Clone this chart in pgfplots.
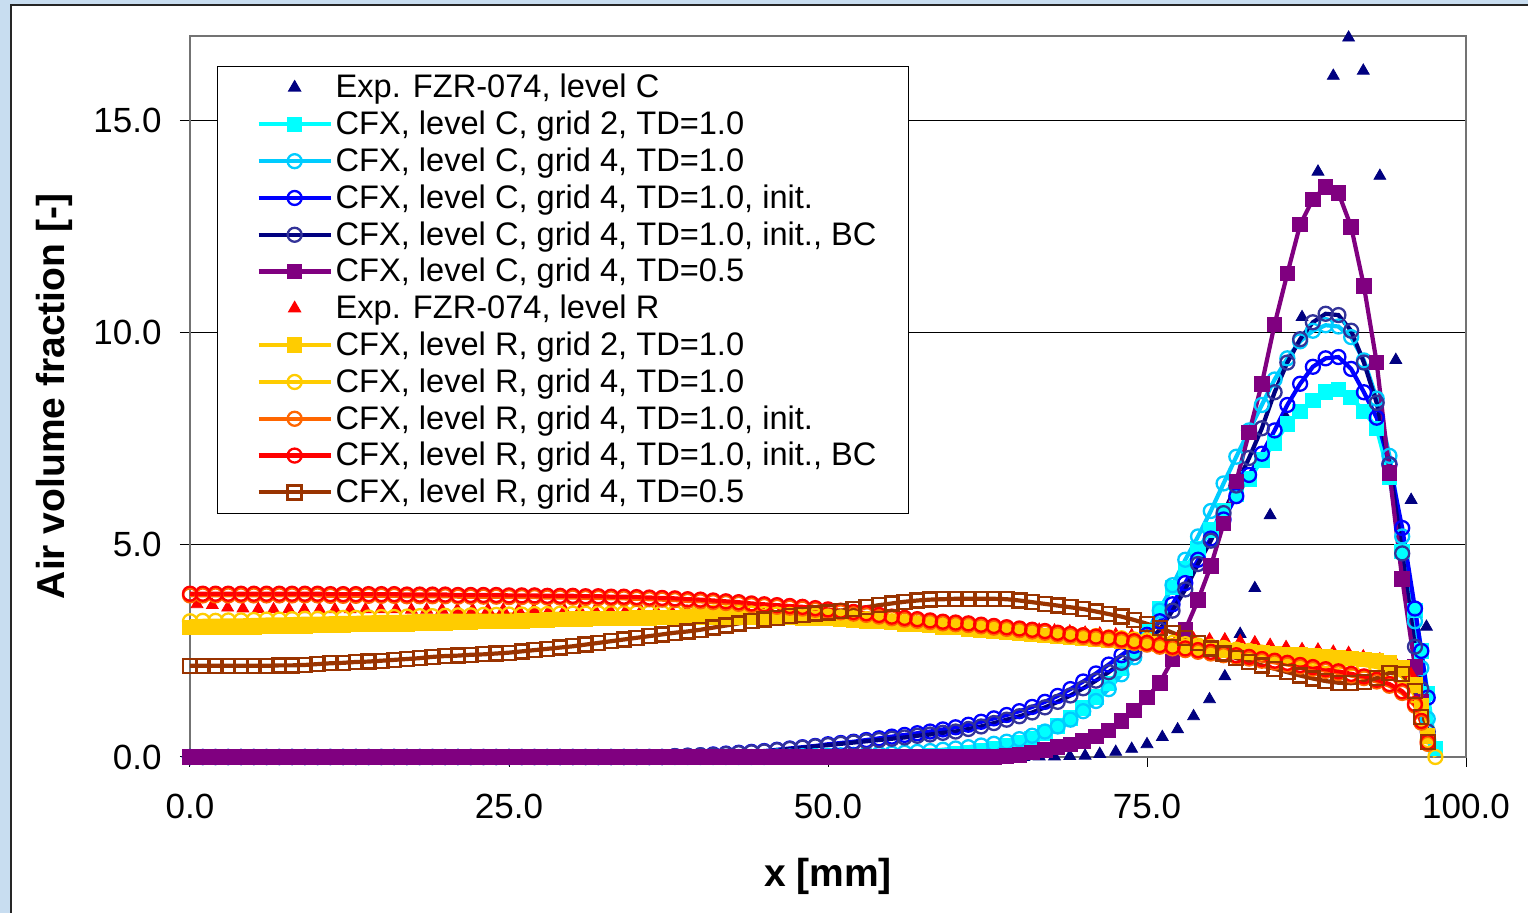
\documentclass[border=0pt]{standalone}
\usepackage{pgfplots}
\usepackage{pgfplotstable}
\pgfplotsset{compat=1.18}
\usepackage{fontspec}
\setmainfont{Liberation Sans}
\definecolor{bgblue}{HTML}{C8DDF0}
\definecolor{cNavy}{HTML}{000080}
\definecolor{cCyan}{HTML}{00FFFF}
\definecolor{cSky}{HTML}{00CCFF}
\definecolor{cBlue}{HTML}{0000FF}
\definecolor{cIndigo}{HTML}{333399}
\definecolor{cPurple}{HTML}{800080}
\definecolor{cGold}{HTML}{FFCC00}
\definecolor{cOrange}{HTML}{FF6600}
\definecolor{cRed}{HTML}{FF0000}
\definecolor{cBrown}{HTML}{993300}
\newcommand{\ls}{\rule[-3.6pt]{0pt}{15.4pt}}
\pgfplotstableread{
x cg2 cg4 cin cbc ctd rg2 rg4 rin rbc rtd
0 0 0 0 0 0 3.05 3.20 3.81 3.85 2.15
1 0 0 0 0 0 3.05 3.21 3.81 3.85 2.15
2 0 0 0 0 0 3.06 3.21 3.81 3.85 2.15
3 0 0 0 0 0 3.06 3.22 3.81 3.85 2.15
4 0 0 0 0 0 3.07 3.22 3.81 3.85 2.15
5 0 0 0 0 0 3.07 3.23 3.81 3.85 2.15
6 0 0 0 0 0 3.08 3.24 3.81 3.85 2.15
7 0 0 0 0 0 3.08 3.24 3.81 3.85 2.16
8 0 0 0 0 0 3.09 3.25 3.81 3.85 2.16
9 0 0 0 0 0 3.09 3.26 3.81 3.85 2.17
10 0 0 0 0 0 3.10 3.26 3.81 3.85 2.19
11 0 0 0 0 0 3.10 3.27 3.80 3.84 2.21
12 0 0 0 0 0 3.11 3.28 3.80 3.84 2.22
13 0 0 0 0 0 3.12 3.28 3.80 3.84 2.24
14 0 0 0 0 0 3.12 3.29 3.80 3.84 2.25
15 0 0 0 0 0 3.13 3.30 3.80 3.84 2.27
16 0 0 0 0 0 3.14 3.30 3.80 3.84 2.29
17 0 0 0 0 0 3.14 3.31 3.79 3.83 2.31
18 0 0 0 0 0 3.15 3.32 3.79 3.83 2.33
19 0 0 0 0 0 3.16 3.32 3.79 3.83 2.36
20 0 0 0 0 0 3.16 3.33 3.79 3.83 2.38
21 0 0 0 0 0 3.17 3.34 3.78 3.82 2.39
22 0 0 0 0 0 3.18 3.34 3.78 3.82 2.41
23 0 0 0 0 0 3.19 3.35 3.78 3.82 2.42
24 0 0 0 0 0 3.20 3.35 3.78 3.82 2.44
25 0 0 0 0 0 3.20 3.36 3.77 3.81 2.46
26 0 0 0 0 0 3.21 3.36 3.77 3.81 2.49
27 0 0 0 0 0 3.22 3.37 3.77 3.81 2.52
28 0 0 0 0 0 3.23 3.37 3.76 3.80 2.55
29 0 0 0 0 0 3.24 3.38 3.76 3.80 2.58
30 0 0 0 0 0 3.25 3.38 3.76 3.80 2.61
31 0 0 0 0 0 3.25 3.38 3.75 3.79 2.65
32 0 0 0 0 0 3.26 3.39 3.75 3.79 2.69
33 0 0 0 0 0 3.27 3.39 3.74 3.78 2.73
34 0 0 0 0 0 3.27 3.39 3.74 3.78 2.77
35 0 0 0 0 0 3.28 3.40 3.73 3.77 2.81
36 0 0 0 0 0 3.28 3.40 3.72 3.76 2.85
37 0 0 0 0 0 3.29 3.40 3.71 3.75 2.89
38 0 0 0.02 0.02 0 3.29 3.40 3.70 3.74 2.93
39 0 0 0.03 0.03 0 3.30 3.40 3.68 3.72 2.96
40 0 0 0.04 0.04 0 3.30 3.40 3.67 3.71 3.00
41 0 0 0.06 0.05 0 3.30 3.40 3.65 3.69 3.05
42 0 0 0.08 0.07 0 3.30 3.39 3.63 3.67 3.10
43 0 0 0.10 0.09 0 3.30 3.39 3.61 3.65 3.15
44 0 0 0.12 0.11 0 3.30 3.38 3.58 3.62 3.20
45 0 0 0.14 0.13 0 3.30 3.37 3.56 3.60 3.24
46 0 0.01 0.17 0.16 0 3.29 3.36 3.54 3.58 3.28
47 0 0.01 0.20 0.19 0 3.29 3.35 3.52 3.56 3.32
48 0 0.02 0.23 0.22 0 3.28 3.34 3.50 3.54 3.35
49 0 0.02 0.26 0.25 0 3.27 3.33 3.47 3.51 3.38
50 0 0.03 0.30 0.28 0 3.26 3.31 3.44 3.48 3.41
51 0 0.04 0.33 0.31 0 3.25 3.29 3.41 3.45 3.45
52 0 0.05 0.36 0.34 0 3.23 3.27 3.38 3.42 3.49
53 0 0.06 0.40 0.37 0 3.21 3.25 3.35 3.39 3.53
54 0 0.07 0.44 0.40 0 3.19 3.23 3.31 3.35 3.58
55 0 0.08 0.48 0.43 0 3.17 3.20 3.27 3.31 3.62
56 0 0.10 0.52 0.46 0 3.14 3.18 3.24 3.28 3.66
57 0 0.12 0.56 0.50 0 3.12 3.15 3.21 3.25 3.69
58 0.02 0.14 0.60 0.53 0 3.10 3.13 3.18 3.22 3.71
59 0.04 0.17 0.65 0.57 0 3.07 3.10 3.15 3.19 3.72
60 0.07 0.20 0.70 0.60 0 3.05 3.08 3.13 3.17 3.73
61 0.10 0.23 0.76 0.66 0 3.02 3.06 3.11 3.15 3.73
62 0.14 0.27 0.83 0.72 0 3.00 3.04 3.08 3.12 3.73
63 0.19 0.31 0.91 0.80 0 2.97 3.02 3.05 3.09 3.73
64 0.26 0.36 0.99 0.88 0.02 2.95 3.00 3.02 3.06 3.72
65 0.34 0.42 1.08 0.96 0.05 2.92 2.98 2.99 3.03 3.69
66 0.44 0.50 1.18 1.05 0.10 2.90 2.96 2.96 3.00 3.65
67 0.57 0.60 1.30 1.17 0.16 2.87 2.94 2.93 2.97 3.61
68 0.73 0.72 1.44 1.30 0.23 2.85 2.92 2.89 2.93 3.57
69 0.92 0.88 1.60 1.45 0.30 2.82 2.90 2.86 2.90 3.53
70 1.15 1.08 1.78 1.62 0.38 2.80 2.87 2.83 2.87 3.49
71 1.42 1.32 1.97 1.80 0.48 2.77 2.85 2.80 2.84 3.43
72 1.73 1.60 2.18 2.00 0.62 2.75 2.82 2.77 2.81 3.37
73 2.10 1.95 2.40 2.22 0.85 2.72 2.80 2.73 2.77 3.31
74 2.50 2.35 2.62 2.45 1.10 2.70 2.77 2.69 2.73 3.23
75 2.95 2.85 2.88 2.70 1.40 2.67 2.75 2.65 2.69 3.14
76 3.50 3.45 3.20 3.00 1.75 2.65 2.72 2.60 2.64 3.04
77 4.00 4.05 3.60 3.45 2.30 2.62 2.69 2.56 2.60 2.93
78 4.45 4.65 4.10 3.95 3.00 2.60 2.66 2.52 2.56 2.80
79 4.90 5.20 4.65 4.55 3.70 2.57 2.63 2.48 2.52 2.68
80 5.35 5.80 5.15 5.10 4.50 2.55 2.60 2.44 2.48 2.56
81 5.80 6.45 5.60 5.75 5.50 2.52 2.57 2.40 2.44 2.44
82 6.20 7.08 6.15 6.40 6.50 2.50 2.53 2.36 2.40 2.33
83 6.55 7.70 6.65 7.05 7.65 2.48 2.50 2.32 2.36 2.24
84 7.00 8.30 7.15 7.75 8.80 2.46 2.46 2.27 2.31 2.16
85 7.40 8.90 7.70 8.60 10.20 2.44 2.42 2.23 2.27 2.08
86 7.85 9.40 8.30 9.30 11.40 2.42 2.39 2.18 2.22 2.00
87 8.15 9.80 8.80 9.85 12.55 2.40 2.35 2.13 2.17 1.92
88 8.40 10.05 9.20 10.25 13.15 2.38 2.32 2.08 2.12 1.85
89 8.60 10.18 9.40 10.45 13.44 2.36 2.28 2.03 2.07 1.79
90 8.66 10.15 9.43 10.42 13.30 2.34 2.25 1.98 2.02 1.75
91 8.48 9.90 9.15 10.05 12.50 2.32 2.21 1.92 1.96 1.74
92 8.15 9.35 8.60 9.30 11.10 2.30 2.17 1.86 1.90 1.77
93 7.75 8.45 8.00 8.35 9.30 2.28 2.12 1.78 1.82 1.86
94 6.60 7.10 6.90 6.90 6.70 2.22 2.03 1.68 1.72 1.98
95 4.85 5.20 5.40 4.80 4.20 2.10 1.90 1.51 1.55 1.96
96 3.45 3.20 3.50 2.60 2.12 1.70 1.45 1.21 1.25 1.55
96.5 2.50 2.10 2.50 1.60 1.30 1.20 0.90 0.81 0.85 0.95
97 1.50 0.90 1.40 0.60 0.50 0.50 0.40 0.31 0.35 0.35
97.6 0.20 nan nan nan nan nan 0.00 nan nan nan
}\cfx
\pgfplotstableread{
x ec er
0.55 0 3.60
1.75 0 3.58
2.95 0 3.52
4.15 0 3.50
5.35 0 3.49
6.55 0 3.48
7.75 0 3.48
8.95 0 3.48
10.15 0 3.48
11.35 0 3.48
12.55 0 3.48
13.75 0 3.48
14.95 0 3.48
16.15 0 3.48
17.35 0 3.47
18.55 0 3.47
19.75 0 3.47
20.95 0 3.47
22.15 0 3.47
23.35 0 3.47
24.55 0 3.47
25.75 0 3.47
26.95 0 3.47
28.15 0 3.46
29.35 0 3.46
30.55 0 3.46
31.75 0 3.46
32.95 0 3.45
34.15 0 3.45
35.35 0 3.45
36.55 0 3.44
37.75 0 3.43
38.95 0 3.43
40.15 0 3.42
41.35 0 3.41
42.55 0 3.40
43.75 0 3.39
44.95 0 3.38
46.15 0 3.36
47.35 0 3.34
48.55 0 3.32
49.75 0 3.30
50.95 0 3.28
52.15 0 3.26
53.35 0 3.24
54.55 0 3.21
55.75 0 3.19
56.95 0 3.17
58.15 0 3.14
59.35 0 3.12
60.55 0 3.10
61.75 0 3.08
62.95 0 3.06
64.15 0 3.04
65.35 0 3.02
66.55 0.01 3.00
67.75 0.01 2.98
68.95 0.02 2.96
70.15 0.03 2.93
71.30 0.07 2.91
72.55 0.12 2.89
73.80 0.19 2.87
75.00 0.30 2.85
76.20 0.47 2.83
77.40 0.65 2.81
78.65 0.96 2.79
79.90 1.36 2.77
81.10 1.90 2.77
82.30 2.90 2.73
83.45 3.98 2.70
84.65 5.70 2.64
85.90 8.00 2.59
87.15 10.37 2.54
88.40 13.80 2.53
89.60 16.06 2.48
90.80 16.96 2.45
91.95 16.18 2.37
93.25 13.70 2.30
94.50 9.36 2.20
95.70 6.06 1.95
96.90 3.07 nan
}\expt
\pgfplotsset{
  cfxline/.style={line width=2.1pt, mark size=3.5pt, mark options={solid, line width=1.15pt}},
  cfxsq/.style={cfxline, mark=square*, mark size=3.3pt},
  expm/.style={only marks, mark=triangle*, mark size=3.4pt},
}
\begin{document}
\begin{tikzpicture}
\path[use as bounding box] (0,0) rectangle (764pt,456.5pt);
\fill[bgblue] (0,0) rectangle (764pt,456.5pt);
\filldraw[fill=white, draw=black!85, line width=1pt] (5.5pt,-5pt) rectangle (780pt,454pt);
\begin{axis}[
  at={(95pt,78pt)}, anchor=south west,
  scale only axis, width=638pt, height=360.5pt,
  xmin=0, xmax=100, ymin=0, ymax=17,
  xtick={0,25,50,75,100}, xticklabels={0.0,25.0,50.0,75.0,100.0},
  ytick={0,5,10,15}, yticklabels={0.0,5.0,10.0,15.0},
  tick align=outside, major tick length=5pt, tick pos=left,
  minor tick num=0,
  ymajorgrids, grid style={black, line width=0.5pt},
  axis line style={draw=black!55, line width=1pt},
  tick style={black, line width=0.5pt},
  /pgf/number format/assume math mode=true,
  ticklabel style={font=\fontsize{17.5}{17.5}\selectfont},
  xticklabel style={yshift=-10pt},
  yticklabel style={xshift=-5.7pt},
  xlabel={x [mm]}, ylabel={Air volume fraction [-]},
  label style={font=\fontsize{19.5}{19.5}\selectfont\bfseries},
  xlabel style={at={(axis description cs:0.5,-0.165)}, anchor=center},
  ylabel style={at={(axis description cs:-0.1065,0.5)}, anchor=center},
  clip=false,
  legend image code/.code={%
    \pgfpathmoveto{\pgfpoint{-4.5pt}{-7.7pt}}%
    \pgfpathlineto{\pgfpoint{36pt}{7.7pt}}%
    \pgfusepath{use as bounding box}%
    \draw[mark repeat=2,mark phase=2,#1] plot coordinates {(0pt,0pt) (18pt,0pt) (36pt,0pt)};
  },
  legend style={at={(0.0212,0.9584)}, anchor=north west,
    draw=black, line width=0.6pt, fill=white,
    font=\fontsize{16.3}{16.3}\selectfont,
    inner xsep=16pt, inner ysep=2.8pt, row sep=3pt, column sep=2.5pt,
    nodes={inner sep=0pt}},
  legend cell align=left,
]
\addplot[expm, color=cNavy] table[x=x, y=ec] {\expt};
\addlegendentry{\ls Exp. FZR-074, level C}
\addplot[cfxsq, color=cCyan] table[x=x, y=cg2] {\cfx};
\addlegendentry{\ls CFX, level C, grid 2, TD=1.0}
\addplot[cfxline, color=cSky, mark=o] table[x=x, y=cg4] {\cfx};
\addlegendentry{\ls CFX, level C, grid 4, TD=1.0}
\addplot[cfxline, color=cBlue, mark=o] table[x=x, y=cin] {\cfx};
\addlegendentry{\ls CFX, level C, grid 4, TD=1.0, init.}
\addplot[cfxline, color=cNavy, mark=o, mark options={solid, line width=1.15pt, draw=cIndigo}] table[x=x, y=cbc] {\cfx};
\addlegendentry{\ls CFX, level C, grid 4, TD=1.0, init., BC}
\addplot[cfxsq, color=cPurple] table[x=x, y=ctd] {\cfx};
\addlegendentry{\ls CFX, level C, grid 4, TD=0.5}
\addplot[expm, color=cRed] table[x=x, y=er] {\expt};
\addlegendentry{\ls Exp. FZR-074, level R}
\addplot[cfxsq, color=cGold] table[x=x, y=rg2] {\cfx};
\addlegendentry{\ls CFX, level R, grid 2, TD=1.0}
\addplot[cfxline, color=cGold, mark=o] table[x=x, y=rg4] {\cfx};
\addlegendentry{\ls CFX, level R, grid 4, TD=1.0}
\addplot[cfxline, color=cOrange, mark=o] table[x=x, y=rin] {\cfx};
\addlegendentry{\ls CFX, level R, grid 4, TD=1.0, init.}
\addplot[cfxline, color=cRed, mark=o] table[x=x, y=rbc] {\cfx};
\addlegendentry{\ls CFX, level R, grid 4, TD=1.0, init., BC}
\addplot[cfxline, color=cBrown, mark=square] table[x=x, y=rtd] {\cfx};
\addlegendentry{\ls CFX, level R, grid 4, TD=0.5}
\end{axis}
\end{tikzpicture}
\end{document}
